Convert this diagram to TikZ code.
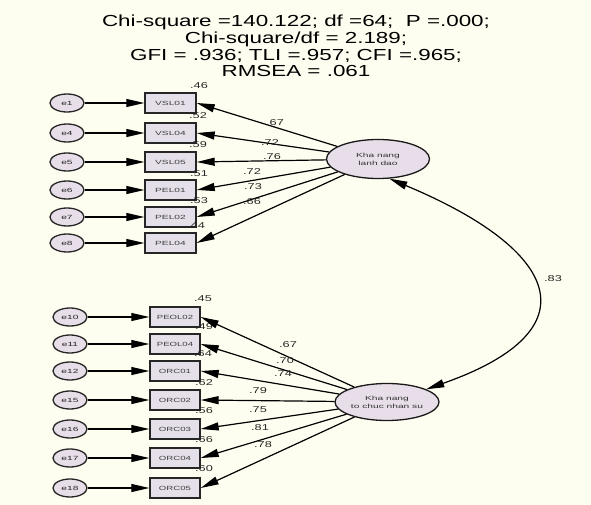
\documentclass[tikz,border=0pt]{standalone}
\usepackage{fontspec}
\setmainfont{Liberation Sans}
\usetikzlibrary{arrows.meta,shapes.geometric}
\definecolor{bg}{HTML}{FEFEF0}
\definecolor{nodefill}{HTML}{E8DEEA}
\definecolor{boxfill}{HTML}{E4DFE8}
\newcommand\hst[2]{\scalebox{#1}[1]{#2}}
\begin{document}
\begin{tikzpicture}[x=1pt,y=-1pt,
  obs/.style={draw=black!85,line width=1.4pt,fill=boxfill,minimum width=51pt,minimum height=20pt,inner sep=0pt,font=\fontsize{6}{7}\selectfont,text=black!75},
  err/.style={ellipse,draw=black!85,line width=1.3pt,fill=nodefill,minimum width=34pt,minimum height=18pt,inner sep=0pt,font=\fontsize{6}{7}\selectfont,text=black!85},
  lat/.style={ellipse,draw=black!90,line width=1.3pt,fill=nodefill,minimum width=103pt,minimum height=39pt,inner sep=0pt,font=\fontsize{6}{8}\selectfont,align=center,text=black!80},
  num/.style={font=\fontsize{8.5}{9}\selectfont,text=black!85,inner sep=0pt},
  arr/.style={-{Triangle[length=18pt,width=8pt]},line width=1.2pt},
]
\fill[bg] (0,0) rectangle (591,505);
\useasboundingbox (0,0) rectangle (591,505);

\node[align=center,font=\fontsize{16}{16.8}\selectfont,inner sep=0pt] (title) at (296,46)
 {\hst{1.4}{Chi-square =140.122; df =64;\ \ P =.000;}\\
  \hst{1.4}{Chi-square/df = 2.189;}\\
  \hst{1.4}{GFI = .936; TLI =.957; CFI =.965;}\\
  \hst{1.4}{RMSEA = .061}};

% top block
\foreach \e/\v/\y in {e1/VSL01/103, e4/VSL04/133, e5/VSL05/162, e6/PEL01/190, e7/PEL02/217, e8/PEL04/243}{
  \node[err] (\e) at (67,\y) {\hst{1.7}{\e}};
  \node[obs] (\v) at (170.5,\y) {\hst{1.7}{\v}};
}
% bottom block
\foreach \e/\v/\y in {e10/PEOL02/317, e11/PEOL04/344, e12/ORC01/371, e15/ORC02/400, e16/ORC03/429, e17/ORC04/458, e18/ORC05/488}{
  \node[err] (\e) at (70,\y) {\hst{1.7}{\e}};
  \node[obs,minimum width=50pt] (\v) at (175,\y) {\hst{1.6}{\v}};
}

\node[lat] (L1) at (378,159) {\hst{1.7}{Kha nang}\\\hst{1.7}{lanh dao}};
\node[lat,minimum width=104pt,minimum height=37pt] (L2) at (387,402) {\hst{1.7}{Kha nang}\\\hst{1.7}{to chuc nhan su}};

% squared multiple correlations
\foreach \t/\x/\y in {.46/199/86, .52/198/116, .59/198/145, .51/199/174, .53/199/201, .44/196/226,
  .45/203/299, .49/204/327, .64/203/354, .62/204/383, .56/204/411, .66/204/440, .60/204/469}{
  \node[num] at (\x,\y) {\hst{1.5}{\t}};
}

% error paths
\foreach \e/\v in {e1/VSL01, e4/VSL04, e5/VSL05, e6/PEL01, e7/PEL02, e8/PEL04,
  e10/PEOL02, e11/PEOL04, e12/ORC01, e15/ORC02, e16/ORC03, e17/ORC04, e18/ORC05}{
  \draw[arr] (\e) -- (\v);
}
% loadings
\foreach \v in {VSL01, VSL04, VSL05, PEL01, PEL02, PEL04}{
  \draw[arr] (L1) -- (\v.east);
}
\foreach \v in {PEOL02, PEOL04, ORC01, ORC02, ORC03, ORC04, ORC05}{
  \draw[arr] (L2) -- (\v.east);
}
\foreach \t/\x/\y in {.67/275/123, .72/270/143, .76/272/157, .72/252/172, .73/253/187, .66/252/202,
  .67/288/345, .70/285/361, .74/283/374, .79/258/391, .75/258/410, .81/260/428, .78/263/445}{
  \node[num] at (\x,\y) {\hst{1.5}{\t}};
}

% covariance
\draw[{Triangle[length=18pt,width=8pt]}-{Triangle[length=18pt,width=8pt]},line width=1.2pt]
  (L1.-60) .. controls (560,250) and (595,330) .. (L2.18);
\node[num] (cov) at (553,279) {\hst{1.5}{.83}};
\end{tikzpicture}
\end{document}
